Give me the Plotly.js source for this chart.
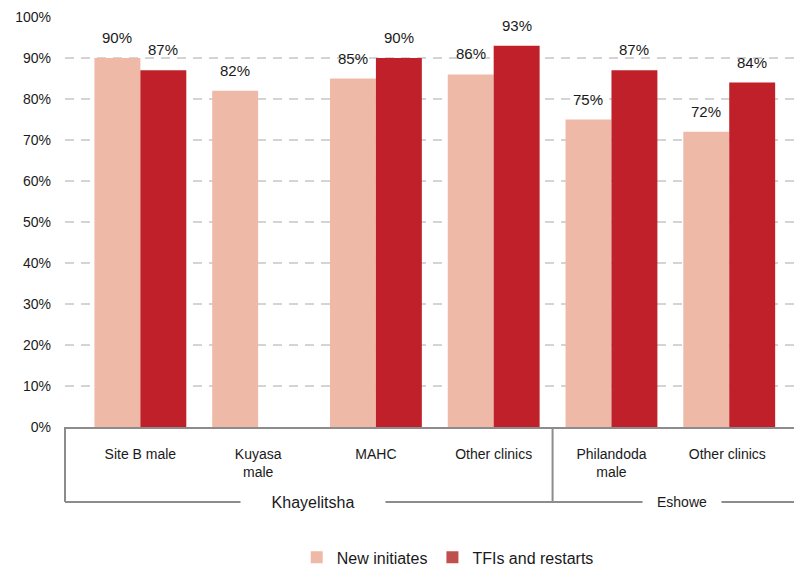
<!DOCTYPE html>
<html>
<head>
<meta charset="utf-8">
<script src="https://cdn.plot.ly/plotly-3.0.1.min.js"></script>
<style>
  html, body { margin: 0; padding: 0; background: #fff; }
  #chart { width: 794px; height: 575px; }
</style>
</head>
<body>
<div id="chart"></div>
<script>
// Clinics on the x axis, and the site each one belongs to
const clinics = ['Site B male', 'Kuyasa<br>male', 'MAHC', 'Other clinics', 'Philandoda<br>male', 'Other clinics '];
const sites = ['Khayelitsha', 'Khayelitsha', 'Khayelitsha', 'Khayelitsha', 'Eshowe', 'Eshowe'];

// Percentages per series (null = not reported)
const newInitiates = [90, 82, 85, 86, 75, 72];
const tfisRestarts = [87, null, 90, 93, 87, 84];

const seriesNames = ['New initiates', 'TFIs and restarts'];
const barColors = ['#EEB9A6', '#C0202A'];
const swatchColors = ['#EEB9A6', '#C0504D'];

const yTicks = [0, 10, 20, 30, 40, 50, 60, 70, 80, 90, 100];

const FONT = 'Liberation Sans, Arial, sans-serif';
const LINE = '#8C8C8C';

const seriesData = [newInitiates, tfisRestarts];

const traces = seriesData.map((vals, i) => ({
  type: 'bar',
  name: seriesNames[i],
  x: clinics,
  y: vals,
  marker: { color: barColors[i], line: { width: 0 } },
  showlegend: false,
  offsetgroup: String(i),
  hoverinfo: 'skip'
}));

// Legend entries with their own swatch colours
seriesNames.forEach((n, i) => {
  traces.push({
    type: 'bar',
    name: n,
    x: [null],
    y: [null],
    marker: { color: swatchColors[i] },
    showlegend: true,
    hoverinfo: 'skip'
  });
});

// Value labels above each bar, one annotation per reported value
const annotations = [];
seriesData.forEach((vals, i) => {
  vals.forEach((v, j) => {
    if (v === null) return;
    annotations.push({
      x: j + (i === 0 ? -0.195 : 0.195),
      y: v,
      xref: 'x', yref: 'y',
      text: v + '%',
      showarrow: false,
      yanchor: 'bottom',
      yshift: 10,
      font: { family: FONT, size: 15, color: '#1a1a1a' }
    });
  });
});

// Site group labels under the clinic names
const groupNames = [...new Set(sites)];
const groupBottom = -0.183;
const shapes = [];
groupNames.forEach((g, gi) => {
  const idx = sites.map((s, k) => s === g ? k : -1).filter(k => k >= 0);
  const first = idx[0], last = idx[idx.length - 1];
  const center = (first + last) / 2;
  annotations.push({
    x: center, y: groupBottom,
    xref: 'x', yref: 'paper',
    xshift: gi === 0 ? -4 : 12,
    text: g,
    showarrow: false,
    yanchor: 'middle',
    xanchor: 'center',
    bgcolor: '#ffffff',
    width: gi === 0 ? 142 : 76,
    height: 18,
    font: { family: FONT, size: gi === 0 ? 16 : 14, color: '#1a1a1a' }
  });
  if (gi > 0) {
    shapes.push({
      type: 'line', xref: 'x', yref: 'paper',
      x0: first - 0.5, x1: first - 0.5, y0: 0, y1: groupBottom,
      line: { color: LINE, width: 2 }, layer: 'below'
    });
  }
});
shapes.push({
  type: 'line', xref: 'paper', yref: 'paper',
  x0: 0, x1: 0, y0: 0, y1: groupBottom,
  line: { color: LINE, width: 2 }, layer: 'below'
});
shapes.push({
  type: 'line', xref: 'paper', yref: 'paper',
  x0: 0, x1: 1, y0: groupBottom, y1: groupBottom,
  line: { color: LINE, width: 2 }, layer: 'below'
});

const layout = {
  width: 794,
  height: 575,
  margin: { l: 65, r: 0, t: 17, b: 143 },
  paper_bgcolor: '#ffffff',
  plot_bgcolor: '#ffffff',
  font: { family: FONT, size: 14, color: '#1a1a1a' },
  barmode: 'group',
  bargap: 0.22,
  bargroupgap: 0,
  showlegend: true,
  legend: {
    orientation: 'h',
    x: 0.525, xanchor: 'center',
    y: -0.318, yanchor: 'middle',
    font: { family: FONT, size: 16, color: '#1a1a1a' },
    traceorder: 'normal',
    itemclick: false
  },
  xaxis: {
    type: 'category',
    range: [-0.64, 5.55],
    showline: true,
    linecolor: LINE,
    linewidth: 2,
    showgrid: false,
    zeroline: false,
    ticks: '',
    ticklabelstandoff: 13,
    tickfont: { family: FONT, size: 14, color: '#1a1a1a' },
    fixedrange: true
  },
  yaxis: {
    range: [0, 100],
    tickvals: yTicks,
    ticktext: yTicks.map(t => t + '%'),
    showline: false,
    showgrid: true,
    gridcolor: '#D4D4D4',
    gridwidth: 1.5,
    griddash: '9px,7px',
    zeroline: false,
    ticks: '',
    ticklabelstandoff: 13,
    tickfont: { family: FONT, size: 14, color: '#1a1a1a' },
    fixedrange: true
  },
  annotations: annotations,
  shapes: shapes
};

Plotly.newPlot('chart', traces, layout, { displayModeBar: false, staticPlot: true });
</script>
</body>
</html>
